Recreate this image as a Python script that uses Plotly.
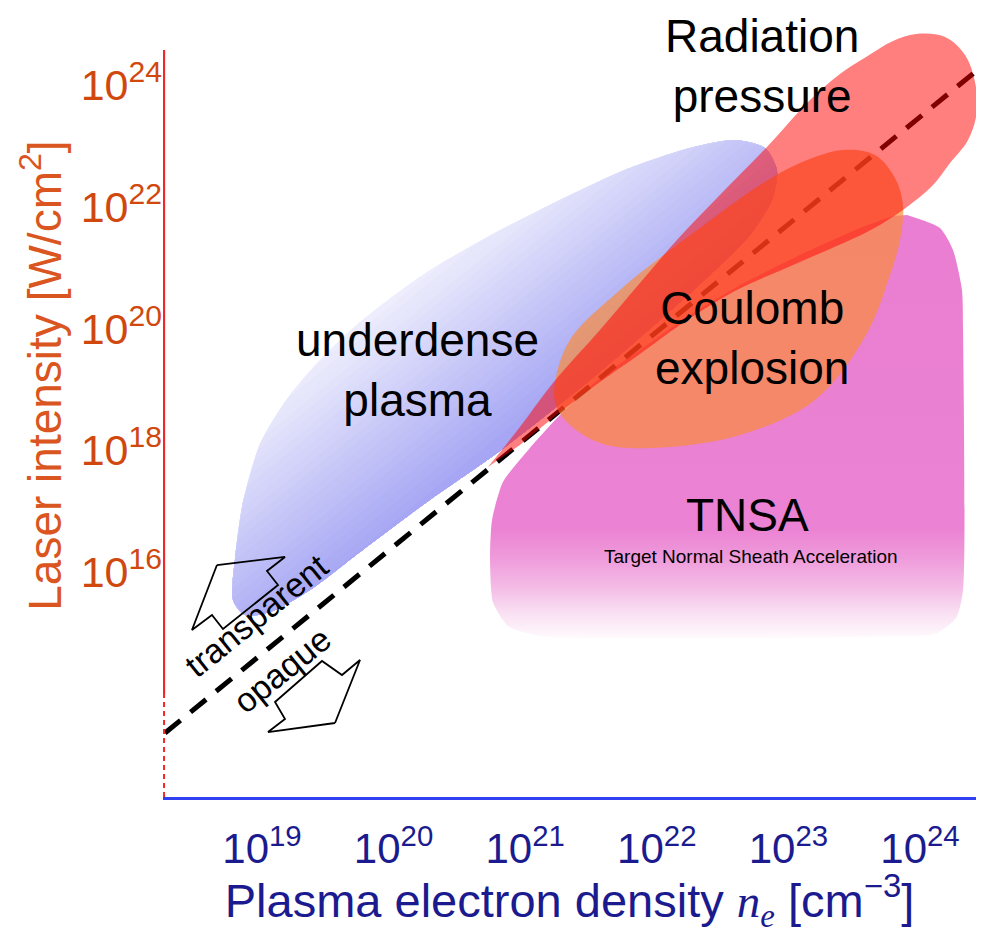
import numpy as np
import plotly.graph_objects as go

# ---------------- data (log10 units) ----------------
density_tick_exp = [19, 20, 21, 22, 23, 24]
intensity_tick_exp = [16, 18, 20, 22, 24]

# transparency threshold (dashed line)
threshold_logn = [18.263, 24.418]
threshold_logI = [13.36, 24.213]

# underdense plasma region outline
underdense_logn = [20.755, 20.254, 19.745, 19.365, 19.061, 18.871, 18.780, 18.795, 18.856, 18.985,
                   19.190, 19.441, 19.745, 20.254, 20.755, 21.264, 21.774, 22.252, 22.594, 22.822,
                   22.913, 22.875, 22.708, 22.404, 22.024, 21.568, 21.112]
underdense_logI = [17.908, 17.153, 16.332, 15.708, 15.346, 15.297, 15.544, 16.217, 17.153, 18.105,
                   18.844, 19.484, 20.108, 20.929, 21.553, 22.112, 22.621, 22.966, 23.097, 22.966,
                   22.604, 22.112, 21.537, 20.880, 20.141, 19.287, 18.499]

# TNSA region outline
tnsa_logn = [23.901, 24.152, 24.251, 24.319, 24.327, 24.327, 24.274, 24.114, 23.848, 21.112,
             20.869, 20.755, 20.733, 20.748, 20.831, 21.036, 21.264, 21.568, 21.872, 22.252,
             22.632, 23.088, 23.544, 23.795]
tnsa_logI = [21.865, 21.652, 21.291, 20.634, 19.977, 15.708, 15.248, 14.985, 14.952, 14.952,
             15.117, 15.511, 16.200, 16.857, 17.481, 18.039, 18.581, 19.189, 19.649, 20.223,
             20.716, 21.209, 21.652, 21.849]

# Coulomb explosion region outline
coulomb_logn = [21.226, 21.340, 21.720, 22.002, 22.328, 22.784, 23.088, 23.415, 23.658, 23.810,
                23.871, 23.848, 23.772, 23.590, 23.202, 22.632, 21.971, 21.591, 21.340, 21.234]
coulomb_logI = [19.107, 19.813, 20.634, 21.126, 21.652, 22.358, 22.719, 22.933, 22.851, 22.473,
                22.030, 21.455, 20.880, 19.895, 18.828, 18.253, 18.039, 18.105, 18.417, 18.745]

# Radiation pressure region outline
radiation_logn = [20.717, 20.960, 21.211, 21.568, 21.872, 22.153, 22.480, 22.837, 23.164, 23.392,
                  23.590, 23.795, 23.970, 24.190, 24.342, 24.418, 24.433, 24.365, 24.228, 24.099,
                  23.848, 23.597, 23.088, 22.579, 22.176, 21.850, 21.568, 21.287, 20.960]
radiation_logI = [17.727, 18.384, 19.107, 19.977, 20.749, 21.455, 22.194, 22.982, 23.754, 24.181,
                  24.460, 24.722, 24.837, 24.788, 24.493, 24.049, 23.573, 23.097, 22.719, 22.358,
                  21.915, 21.586, 21.094, 20.601, 20.059, 19.550, 19.123, 18.663, 18.089]

# direction arrows
arrow_up_logn = [18.658, 19.175, 19.038, 19.122, 18.704, 18.620, 18.468, 18.658]
arrow_up_logI = [16.118, 16.250, 16.020, 15.790, 15.067, 15.297, 15.051, 16.118]
arrow_down_logn = [19.555, 19.046, 19.175, 19.099, 19.456, 19.608, 19.745, 19.555]
arrow_down_logI = [13.524, 13.376, 13.589, 13.869, 14.542, 14.312, 14.558, 13.524]

X_RANGE = [18.248, 24.4255]
Y_RANGE = [12.309, 25.264]
Y_AXIS_SOLID = [14.0, 24.575]   # solid part of the intensity axis line (log10)

FONT = "Liberation Sans, Arial, sans-serif"

fig = go.Figure()


def pw(v):
    return np.power(10.0, np.asarray(v, dtype=float))


def add_region(lx, ly, **kw):
    fig.add_trace(go.Scatter(
        x=pw(lx), y=pw(ly), mode="lines",
        fill="toself", hoverinfo="skip", showlegend=False, **kw))


# ---- underdense plasma: banded gradient perpendicular to the threshold line ----
slope = (threshold_logI[1] - threshold_logI[0]) / (threshold_logn[1] - threshold_logn[0])


def offset(x, y):
    return y - (threshold_logI[0] + slope * (x - threshold_logn[0]))


def clip_below(xs, ys, t):
    n = len(xs)
    out, entry = [], None
    for i in range(n):
        cx, cy = xs[i], ys[i]
        nx, ny = xs[(i + 1) % n], ys[(i + 1) % n]
        fc, fn = offset(cx, cy) - t, offset(nx, ny) - t
        if fc <= 0:
            out.append((cx, cy))
        if (fc <= 0) != (fn <= 0):
            k = fc / (fc - fn)
            out.append((cx + k * (nx - cx), cy + k * (ny - cy)))
            if fc > 0:
                entry = len(out) - 1
    if entry is not None:
        out = out[entry:] + out[:entry]
    return [p[0] for p in out], [p[1] for p in out]


light = np.array([240, 240, 253])
dark = np.array([166, 166, 244])
levels = [4.3 - 0.15 * i for i in range(27)]
for k, t in enumerate(levels):
    frac = k / (len(levels) - 1)
    c = light + (dark - light) * frac
    col = "rgb(%d,%d,%d)" % tuple(int(round(v)) for v in c)
    cx, cy = clip_below(underdense_logn, underdense_logI, t)
    if len(cx) < 3:
        continue
    add_region(cx, cy, line=dict(width=0, shape="spline", smoothing=0.8), fillcolor=col)

# ---- TNSA ----
add_region(tnsa_logn, tnsa_logI, line=dict(width=0, shape="spline", smoothing=0.6),
           fillcolor="#ea7ed2",
           fillgradient=dict(type="vertical",
                             colorscale=[[0, "#fffafd"], [0.06, "#f9e0f3"], [0.12, "#f4bce6"],
                                         [0.19, "#ef9bdb"], [0.26, "#eb82d3"], [1, "#ea7ed2"]]))

# ---- threshold dashed line ----
fig.add_trace(go.Scatter(x=pw(threshold_logn), y=pw(threshold_logI),
                         mode="lines", line=dict(color="black", width=5, dash="20px,13px"),
                         hoverinfo="skip", showlegend=False))

# ---- Coulomb explosion ----
add_region(coulomb_logn + coulomb_logn[:1], coulomb_logI + coulomb_logI[:1],
           line=dict(width=0, shape="spline", smoothing=1.0), fillcolor="rgba(250,140,60,0.7)")

# ---- Radiation pressure ----
add_region(radiation_logn, radiation_logI, line=dict(width=0, shape="spline", smoothing=1.0),
           fillcolor="rgba(255,0,0,0.5)")

# ---- arrows (outline only) ----
for ax_, ay_ in [(arrow_up_logn, arrow_up_logI), (arrow_down_logn, arrow_down_logI)]:
    fig.add_trace(go.Scatter(x=pw(ax_), y=pw(ay_), mode="lines",
                             line=dict(color="black", width=1.8),
                             hoverinfo="skip", showlegend=False))

# ---- y-axis line (solid + dashed part) ----
xl = X_RANGE[0] + 0.008
fig.add_trace(go.Scatter(x=pw([xl, xl]), y=pw(Y_AXIS_SOLID), mode="lines",
                         line=dict(color="#f02828", width=2.2),
                         hoverinfo="skip", showlegend=False))
fig.add_trace(go.Scatter(x=pw([xl, xl]), y=pw([Y_RANGE[0], Y_AXIS_SOLID[0]]), mode="lines",
                         line=dict(color="#f02828", width=2, dash="5px,4px"),
                         hoverinfo="skip", showlegend=False))

ann = []


def label(text, x, y, size, angle=0, color="black", xref="x", yref="y", yanchor="middle"):
    ann.append(dict(text=text, x=x, y=y, xref=xref, yref=yref, showarrow=False,
                    textangle=angle, xanchor="center", yanchor=yanchor,
                    font=dict(family=FONT, size=size, color=color)))


label("Radiation<br>pressure", 22.799, 1.0, 46, yref="paper", yanchor="top")
label("Coulomb<br>explosion", 22.723, 19.846, 46)
label("underdense<br>plasma", 20.178, 19.320, 46)
label("TNSA", 22.693, 16.939, 46)
label("Target Normal Sheath Acceleration", 22.716, 16.266, 19)
label("transparent", 18.962, 15.300, 34, angle=-39)
label("opaque", 19.152, 14.400, 34, angle=-39)
# y-axis title
label("Laser intensity [W/cm<sup>2</sup>]", -0.150, 0.534, 46, angle=-90,
      color="#da5520", xref="paper", yref="paper")

fig.update_layout(
    width=968, height=926,
    margin=dict(l=155, r=0, t=0, b=137),
    paper_bgcolor="white", plot_bgcolor="white",
    showlegend=False, annotations=ann,
    font=dict(family=FONT),
    xaxis=dict(type="log", range=X_RANGE, showgrid=False, zeroline=False,
               showline=True, linecolor="#3040f0", linewidth=2.5, ticks="",
               tickvals=[float(10.0 ** e) for e in density_tick_exp],
               ticktext=["10<sup>%d</sup>" % e for e in density_tick_exp],
               tickfont=dict(family=FONT, size=42, color="#1b1b8f"),
               ticklabelstandoff=13,
               title=dict(text="Plasma electron density "
                               "<span style=\"font-family:Liberation Serif\"><i>n<sub>e</sub></i></span>"
                               " [cm<sup>−3</sup>]",
                          font=dict(family=FONT, size=47, color="#1b1b8f"), standoff=4)),
    yaxis=dict(type="log", range=Y_RANGE, showgrid=False, zeroline=False,
               showline=False, ticks="",
               tickvals=[float(10.0 ** e) for e in intensity_tick_exp],
               ticktext=["10<sup>%d</sup>" % e for e in intensity_tick_exp],
               tickfont=dict(family=FONT, size=43, color="#d0480e"),
               ticklabelstandoff=0),
)

fig.write_html("out.html")
